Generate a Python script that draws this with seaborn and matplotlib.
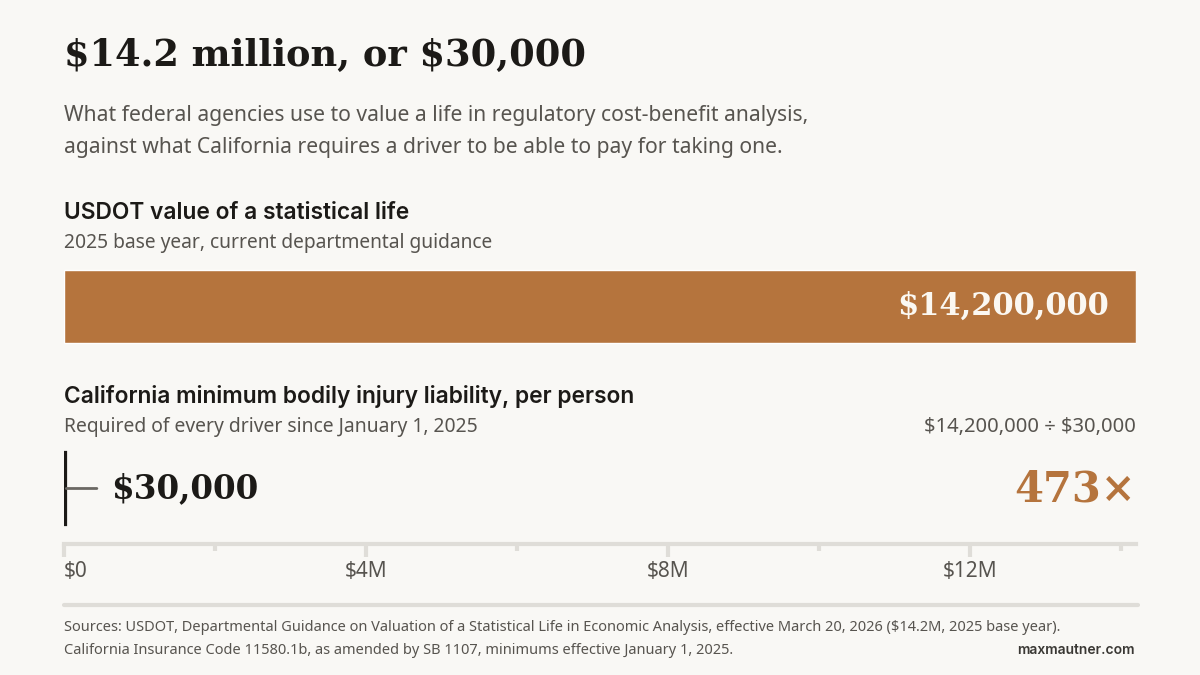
import matplotlib
matplotlib.use("Agg")
import matplotlib.pyplot as plt
import seaborn as sns

# --- data ---
categories = ["USDOT value of a statistical life",
              "California minimum bodily injury liability, per person"]
values = [14_200_000, 30_000]
bar_labels = ["$14,200,000", "$30,000"]
tick_values = [0, 4_000_000, 8_000_000, 12_000_000]
tick_labels = ["$0", "$4M", "$8M", "$12M"]
minor_values = [2_000_000, 6_000_000, 10_000_000, 14_000_000]
ratio = round(values[0] / values[1])

# --- colours ---
BG = "#f9f8f5"
ORANGE = "#b5743d"
DARK = "#1c1a17"
GRAY = "#57544f"
RULE = "#dfddd8"

sns.set_theme(style="white", rc={"axes.facecolor": BG, "figure.facecolor": BG})
plt.rcParams["text.parse_math"] = False
SANS = ["Noto Sans", "DejaVu Sans"]
HEAD = ["Inter", "DejaVu Sans"]   # has real semibold weights
SERIF = ["DejaVu Serif"]
plt.rcParams["font.family"] = SANS

W, H = 1200, 675
fig = plt.figure(figsize=(12, 6.75), dpi=100)


def fy(px):
    return 1 - px / H


def fx(px):
    return px / W


# axes: x 64..1136 px, y 215.5..544 px
ax = fig.add_axes([fx(64), fy(544), fx(1136) - fx(64), (544 - 215.5) / H])
sns.barplot(x=values, y=categories, hue=categories, palette=[ORANGE, DARK],
            orient="h", width=0.4, legend=False, ax=ax, saturation=1)
# the tiny bar gets a dark outline so it reads as a line
ax.patches[1].set_edgecolor(DARK)
ax.patches[1].set_linewidth(1.6)
ax.set_xlim(0, values[0])
ax.set_ylim(1.305, -0.5)
ax.set_ylabel("")
ax.set_yticks([])
for s in ["top", "left", "right"]:
    ax.spines[s].set_visible(False)
ax.spines["bottom"].set_color(RULE)
ax.spines["bottom"].set_linewidth(3)
ax.set_xticks(tick_values)
ax.set_xticklabels(tick_labels, color=GRAY, fontsize=15)
ax.set_xticks(minor_values, minor=True)
ax.tick_params(axis="x", which="major", length=9, width=3, color=RULE, pad=3, bottom=True)
ax.tick_params(axis="x", which="minor", length=5, width=3, color=RULE, bottom=True)
ax.get_xticklabels()[0].set_ha("left")

# bar value labels
ax.annotate(bar_labels[0], xy=(values[0], 0), xytext=(-27, 0), textcoords="offset pixels",
            ha="right", va="center", color="#fbf8f2", fontsize=22,
            fontweight="bold", family=SERIF)
ax.annotate(bar_labels[1], xy=(values[1], 1), xytext=(45, 0), textcoords="offset pixels",
            ha="left", va="center", color=DARK, fontsize=23.5, fontweight="bold", family=SERIF,
            arrowprops=dict(arrowstyle="-", color="#6b6863", lw=2,
                            relpos=(0, 0.5), shrinkA=8, shrinkB=0))

# --- texts ---
fig.text(fx(64), fy(66), "$14.2 million, or $30,000", family=SERIF, fontweight="bold",
         fontsize=26.5, color=DARK, va="baseline")
fig.text(fx(64), fy(121), "What federal agencies use to value a life in regulatory cost-benefit analysis,",
         fontsize=15.2, color=GRAY, va="baseline")
fig.text(fx(64), fy(153), "against what California requires a driver to be able to pay for taking one.",
         fontsize=15.2, color=GRAY, va="baseline")

fig.text(fx(64), fy(219), categories[0], fontsize=16.4, fontweight="semibold", family=HEAD,
         color=DARK, va="baseline")
fig.text(fx(64), fy(248), "2025 base year, current departmental guidance", fontsize=13.85,
         color=GRAY, va="baseline")
fig.text(fx(64), fy(403), categories[1], fontsize=16.4, fontweight="semibold", family=HEAD,
         color=DARK, va="baseline")
fig.text(fx(64), fy(432), "Required of every driver since January 1, 2025", fontsize=13.9,
         color=GRAY, va="baseline")
fig.text(fx(1136), fy(432), f"{bar_labels[0]} \u00f7 {bar_labels[1]}", fontsize=14.5,
         color=GRAY, va="baseline", ha="right")
fig.text(fx(1136), fy(502), f"{ratio}\u00d7", family=SERIF, fontweight="bold", fontsize=30,
         color=ORANGE, va="baseline", ha="right")

# footer
fig.add_artist(plt.Line2D([fx(64), fx(1138)], [fy(605), fy(605)], color=RULE, lw=3))
fig.text(fx(64), fy(631),
         "Sources: USDOT, Departmental Guidance on Valuation of a Statistical Life in Economic Analysis, "
         "effective March 20, 2026 ($14.2M, 2025 base year).",
         fontsize=10.5, color=GRAY, va="baseline")
fig.text(fx(64), fy(654),
         "California Insurance Code 11580.1b, as amended by SB 1107, minimums effective January 1, 2025.",
         fontsize=10.5, color=GRAY, va="baseline")
fig.text(fx(1135), fy(654), "maxmautner.com", fontsize=10, fontweight="semibold", family=HEAD,
         color="#3a3834", va="baseline", ha="right")

fig.savefig("out.png", dpi=100, facecolor=BG)
